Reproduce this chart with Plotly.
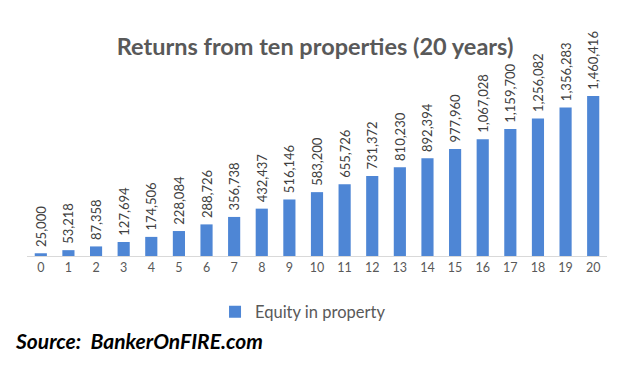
import plotly.graph_objects as go

years = [str(i) for i in range(21)]
equity = [25000, 53218, 87358, 127694, 174506, 228084, 288726, 356738, 432437,
          516146, 583200, 655726, 731372, 810230, 892394, 977960, 1067028,
          1159700, 1256082, 1356283, 1460416]
labels = [f"{v:,}" for v in equity]

FONT = "Lato, Open Sans, sans-serif"

fig = go.Figure()
fig.add_trace(go.Bar(
    x=years, y=equity, name="Equity in property",
    marker=dict(color="#4E86D5", line=dict(width=0)),
    text=[" " + t for t in labels], textposition="outside", textangle=-90,
    constraintext="none",
    textfont=dict(family=FONT, size=13, color="#404040"),
    cliponaxis=False,
))

fig.update_layout(
    width=630, height=366,
    paper_bgcolor="white", plot_bgcolor="white",
    margin=dict(l=27, r=23, t=60, b=110, autoexpand=False),
    bargap=0.56,
    title=dict(text="<b>Returns from ten properties (20 years)</b>",
               x=0.5, xanchor="center", y=0.872, yanchor="middle",
               font=dict(family=FONT, size=23.5, color="#595959")),
    xaxis=dict(type="category", showline=True, linecolor="#D9D9D9", linewidth=1,
               ticks="", showgrid=False, automargin=False,
               tickfont=dict(family=FONT, size=12.5, color="#595959")),
    yaxis=dict(range=[0, 1790000], visible=False, showgrid=False, zeroline=False,
               automargin=False),
    showlegend=True,
    legend=dict(orientation="h", x=0.481, xanchor="center", xref="container",
                y=0.1475, yanchor="middle", yref="container",
                font=dict(family=FONT, size=16.5, color="#595959"),
                itemwidth=30),
    annotations=[dict(text="<b><i>Source:  BankerOnFIRE.com</i></b>",
                      xref="paper", yref="paper", x=-0.025, y=-0.43,
                      xanchor="left", yanchor="middle", showarrow=False,
                      font=dict(family=FONT, size=21, color="black"))],
)

fig.write_html("out.html", post_script="document.body.style.margin='0';",
               config={"displayModeBar": False})
